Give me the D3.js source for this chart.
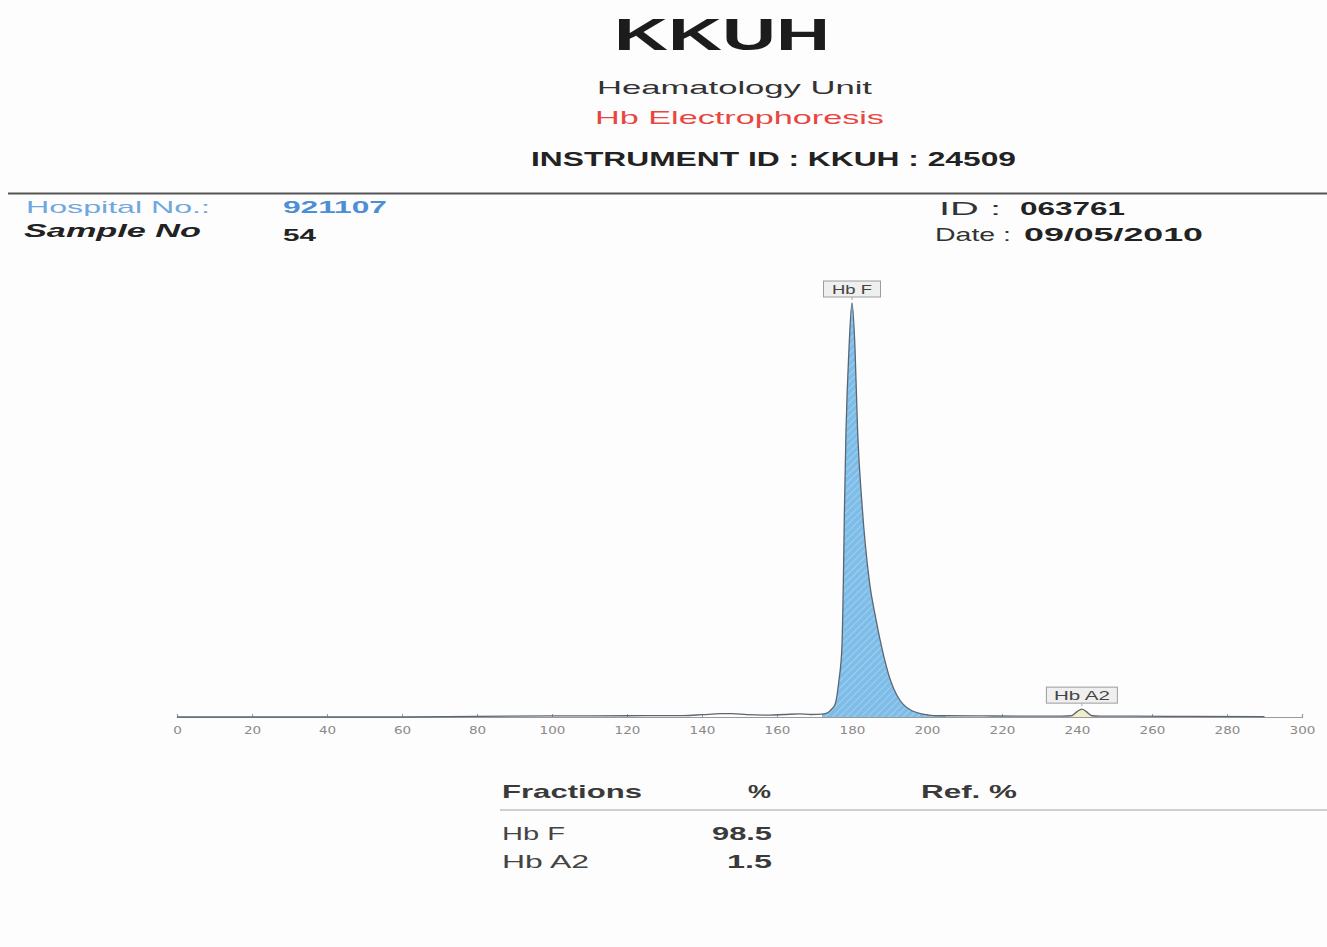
<!DOCTYPE html>
<html>
<head>
<meta charset="utf-8">
<title>KKUH Hb Electrophoresis</title>
<script src="https://cdn.jsdelivr.net/npm/d3@7/dist/d3.min.js"></script>
<style>
  html, body { margin: 0; padding: 0; background: #fdfdfd; }
  svg { display: block; font-family: "Liberation Sans", Arial, sans-serif; }
</style>
</head>
<body>
<svg id="chart" width="1327" height="947"></svg>
<script>
// Electropherogram trace: migration position and relative absorbance (% of Hb F peak)
const positions = [0, 20, 40, 60, 80, 100, 120, 135, 140, 145, 148, 152, 158, 162, 166, 169, 172,
  173.5, 174.5, 175.5, 176.5, 177.3, 177.7, 178.0, 178.4, 179.2, 180.0, 180.8, 181.5, 182.7, 184.6,
  186.3, 188.0, 190.2, 192, 193.6, 196, 198.9, 201, 205, 215, 230, 236, 238.5, 240, 241.3, 242.5, 244,
  246, 255, 270, 290];
const signal = [0, 0, 0, 0, 0.15, 0.25, 0.3, 0.35, 0.55, 0.8, 0.8, 0.55, 0.45, 0.6, 0.75, 0.6, 0.7,
  1.0, 1.8, 3.1, 8.7, 16.7, 33, 51, 69, 89, 100, 89, 69, 51, 33,
  24, 16.5, 9, 5.2, 3.1, 1.5, 0.7, 0.4, 0.3, 0.25, 0.2, 0.2, 0.3, 1.3, 1.9, 1.3, 0.3,
  0.2, 0.2, 0.15, 0.1];

// Axis tick values
const tickValues = [0, 20, 40, 60, 80, 100, 120, 140, 160, 180, 200, 220, 240, 260, 280, 300];

// Identified fractions
const peakNames = ["Hb F", "Hb A2"];
const peakPositions = [180, 241.3];
const peakRanges = [[172, 205], [237, 246]];
const fractionPercents = [98.5, 1.5];

const svg = d3.select("#chart");

const x = d3.scaleLinear().domain([0, 300]).range([177, 1302]);
const y = d3.scaleLinear().domain([0, 100]).range([717, 303]);

const trace = positions.map((p, i) => ({ p, v: signal[i] }));

// Hatch pattern for the Hb F band
const defs = svg.append("defs");
const hatch = defs.append("pattern")
  .attr("id", "hatch").attr("patternUnits", "userSpaceOnUse")
  .attr("width", 5).attr("height", 5)
  .attr("patternTransform", "rotate(45)");
hatch.append("rect").attr("width", 5).attr("height", 5).attr("fill", "#7ebde8");
hatch.append("line").attr("x1", 0).attr("y1", 0).attr("x2", 0).attr("y2", 5)
  .attr("stroke", "#a9d4f2").attr("stroke-width", 1.6);

// Stretched text helper
function label(g, str, opts) {
  const t = g.append("text")
    .attr("x", opts.x).attr("y", opts.y)
    .attr("font-size", opts.size)
    .attr("font-weight", opts.bold ? "bold" : "normal")
    .attr("font-style", opts.italic ? "italic" : "normal")
    .attr("fill", opts.color || "#333")
    .text(str);
  if (opts.width) t.attr("textLength", opts.width).attr("lengthAdjust", "spacingAndGlyphs");
  return t;
}

// ---- Header ----
const head = svg.append("g");
label(head, "KKUH", { x: 614, y: 50, size: 45, bold: true, color: "#1c1c1c", width: 216 });
label(head, "Heamatology Unit", { x: 597, y: 94, size: 19, color: "#333", width: 275 });
label(head, "Hb Electrophoresis", { x: 595, y: 124, size: 19, color: "#e8463f", width: 289 });
label(head, "INSTRUMENT ID : KKUH : 24509", { x: 531, y: 166, size: 20, bold: true, color: "#222", width: 485 });

svg.append("line").attr("x1", 8).attr("x2", 1327).attr("y1", 193.5).attr("y2", 193.5)
  .attr("stroke", "#555").attr("stroke-width", 2);

label(head, "Hospital No.:", { x: 26, y: 213, size: 17, color: "#6fa7de", width: 184 });
label(head, "921107", { x: 283, y: 213, size: 17, bold: true, color: "#4b8fd6", width: 104 });
label(head, "Sample No", { x: 24, y: 237, size: 18, bold: true, italic: true, color: "#222", width: 177 });
label(head, "54", { x: 283, y: 241, size: 17, bold: true, color: "#222", width: 33 });
label(head, "ID :", { x: 939, y: 215, size: 19, color: "#333", width: 62 });
label(head, "063761", { x: 1020, y: 215, size: 18, bold: true, color: "#222", width: 105 });
label(head, "Date :", { x: 935, y: 241, size: 19, color: "#333", width: 76 });
label(head, "09/05/2010", { x: 1024, y: 241, size: 18, bold: true, color: "#222", width: 179 });

// ---- Axis ----
const axis = d3.axisBottom(x).tickValues(tickValues).tickSize(-3).tickPadding(9).tickFormat(d3.format("d"));
const axG = svg.append("g").attr("transform", `translate(0, ${y(0)})`).call(axis);
axG.select(".domain").attr("stroke", "#9a9a9a").attr("stroke-width", 1.2);
axG.selectAll(".tick line").attr("stroke", "#9a9a9a");
axG.selectAll(".tick text")
  .attr("fill", "#8a8a8a").attr("font-size", 11)
  .attr("font-family", "'DejaVu Sans', sans-serif")
  .each(function (d) {
    const n = String(d).length;
    d3.select(this).attr("textLength", n * 8.6).attr("lengthAdjust", "spacingAndGlyphs");
  });

// ---- Peak bands ----
const area = d3.area().x(d => x(d.p)).y0(y(0)).y1(d => y(d.v)).curve(d3.curveMonotoneX);
const line = d3.line().x(d => x(d.p)).y(d => y(d.v)).curve(d3.curveMonotoneX);
const bandFills = ["url(#hatch)", "#f3eccb"];

peakRanges.forEach((r, i) => {
  const seg = trace.filter(d => d.p >= r[0] && d.p <= r[1]);
  svg.append("path").datum(seg).attr("d", area).attr("fill", bandFills[i]).attr("stroke", "none");
});

// Full trace
svg.append("path").datum(trace).attr("d", line)
  .attr("fill", "none").attr("stroke", "#5b6672").attr("stroke-width", 1.3);

// ---- Peak labels ----
const peakLabelWidths = [57, 71];
const peakLabelText = [40, 56];
peakNames.forEach((name, i) => {
  const px = x(peakPositions[i]);
  const top = peakPositions[i] === 180 ? y(100) : y(1.9);
  const g = svg.append("g");
  const bw = peakLabelWidths[i], bh = 16;
  const by = top - 22;
  g.append("rect").attr("x", px - bw / 2).attr("y", by).attr("width", bw).attr("height", bh)
    .attr("fill", "#efefef").attr("stroke", "#9c9c9c").attr("stroke-width", 1);
  g.append("line").attr("x1", px).attr("x2", px).attr("y1", by + bh).attr("y2", by + bh + 3)
    .attr("stroke", "#aaa");
  label(g, name, { x: px - peakLabelText[i] / 2, y: by + 12.5, size: 12, color: "#444", width: peakLabelText[i] });
});

// ---- Fractions table ----
const tbl = svg.append("g");
label(tbl, "Fractions", { x: 502, y: 798, size: 19, bold: true, color: "#3a3a3a", width: 140 });
label(tbl, "%", { x: 748, y: 798, size: 19, bold: true, color: "#3a3a3a", width: 23 });
label(tbl, "Ref. %", { x: 921, y: 798, size: 19, bold: true, color: "#3a3a3a", width: 96 });
tbl.append("line").attr("x1", 500).attr("x2", 1327).attr("y1", 810).attr("y2", 810)
  .attr("stroke", "#cfcfcf").attr("stroke-width", 2);

const nameWidths = [63, 87];
fractionPercents.forEach((v, i) => {
  const by = 840 + i * 28;
  label(tbl, peakNames[i], { x: 502, y: by, size: 19, color: "#444", width: nameWidths[i] });
  const s = d3.format(".1f")(v);
  const w = s.length * 15;
  label(tbl, s, { x: 772 - w, y: by, size: 19, bold: true, color: "#3a3a3a", width: w });
});
</script>
</body>
</html>
